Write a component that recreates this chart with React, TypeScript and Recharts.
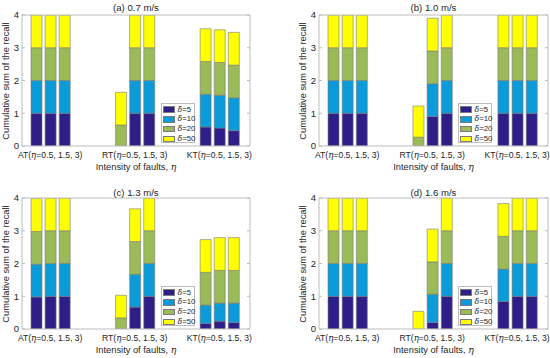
import React from "react";
import { BarChart, Bar, XAxis, YAxis } from "recharts";

const slots = [1, 2, 3, 4, 5, 6, 7, 8, 9, 10, 11, 12, 13, 14, 15];
const groupNames = ["AT", "RT", "KT"];
const groupSlots = [2, 8, 14];
const deltas = [5, 10, 20, 50];
const colors = ["#2e1f88", "#0a9bd8", "#9bbb59", "#ffff00"];
const yTicks = [0, 1, 2, 3, 4];
const titles = ["(a) 0.7 m/s", "(b) 1.0 m/s", "(c) 1.3 m/s", "(d) 1.6 m/s"];

// (a) 0.7 m/s
const a5 = [1, 1, 1, 0, 0, 0, 0, 1, 1, 0, 0, 0, 0.58, 0.55, 0.47];
const a10 = [1, 1, 1, 0, 0, 0, 0, 1, 1, 0, 0, 0, 1, 1, 1];
const a20 = [1, 1, 1, 0, 0, 0, 0.64, 1, 1, 0, 0, 0, 1, 1, 1];
const a50 = [1, 1, 1, 0, 0, 0, 1, 1, 1, 0, 0, 0, 1, 1, 1];

// (b) 1.0 m/s
const b5 = [1, 1, 1, 0, 0, 0, 0, 0.9, 1, 0, 0, 0, 1, 1, 1];
const b10 = [1, 1, 1, 0, 0, 0, 0, 1, 1, 0, 0, 0, 1, 1, 1];
const b20 = [1, 1, 1, 0, 0, 0, 0.27, 1, 1, 0, 0, 0, 1, 1, 1];
const b50 = [1, 1, 1, 0, 0, 0, 0.95, 1, 1, 0, 0, 0, 1, 1, 1];

// (c) 1.3 m/s
const c5 = [0.98, 1, 1, 0, 0, 0, 0, 0.67, 1, 0, 0, 0, 0.17, 0.24, 0.2];
const c10 = [1, 1, 1, 0, 0, 0, 0, 1, 1, 0, 0, 0, 0.56, 0.55, 0.59];
const c20 = [1, 1, 1, 0, 0, 0, 0.34, 1, 1, 0, 0, 0, 1, 1, 1];
const c50 = [1, 1, 1, 0, 0, 0, 0.69, 1, 1, 0, 0, 0, 1, 1, 1];

// (d) 1.6 m/s
const d5 = [1, 1, 1, 0, 0, 0, 0, 0.2, 1, 0, 0, 0, 0.84, 1, 1];
const d10 = [1, 1, 1, 0, 0, 0, 0, 0.86, 1, 0, 0, 0, 0.99, 1, 1];
const d20 = [1, 1, 1, 0, 0, 0, 0, 0.99, 1, 0, 0, 0, 1, 1, 1];
const d50 = [1, 1, 1, 0, 0, 0, 0.54, 1, 1, 0, 0, 0, 1, 1, 1];

const series = [
  [a5, a10, a20, a50],
  [b5, b10, b20, b50],
  [c5, c10, c20, c50],
  [d5, d10, d20, d50],
];

const font = "'Liberation Sans', Arial, sans-serif";
const frame = "#bdbdbd";
const ink = "#262626";

// chart boxes: x, y, w, h, y-axis width, right margin, x-axis height
const boxes = [
  { x: 0, y: 0, w: 275, h: 179, yw: 22, mr: 25, xh: 33, tdy: 7.5 },
  { x: 275, y: 0, w: 275, h: 179, yw: 44, mr: 2, xh: 33, tdy: 7.5 },
  { x: 0, y: 183, w: 275, h: 175, yw: 22, mr: 25, xh: 29, tdy: 5 },
  { x: 275, y: 183, w: 275, h: 175, yw: 44, mr: 2, xh: 29, tdy: 5 },
];

const XTick = (props: any) => {
  const { x, y, payload } = props;
  const i = groupSlots.indexOf(payload.value);
  if (i < 0) return <g />;
  return (
    <text x={x} y={y + 12} textAnchor="middle" fontSize={8.6} fill={ink} fontFamily={font}>
      {groupNames[i]}(<tspan fontStyle="italic" fontFamily="'DejaVu Serif', serif">η</tspan>=0.5, 1.5, 3)
    </text>
  );
};

const Centered = ({ cx, cy, rotate, size, children }: any) => (
  <div
    style={{
      position: "absolute",
      left: cx,
      top: cy,
      transform: `translate(-50%, -50%)${rotate ? " rotate(-90deg)" : ""}`,
      whiteSpace: "nowrap",
      fontSize: size,
      lineHeight: 1,
      fontFamily: font,
      color: ink,
    }}
  >
    {children}
  </div>
);

const LegendBox = ({ left, top }: { left: number; top: number }) => (
  <div
    style={{
      position: "absolute",
      left,
      top,
      width: 34,
      height: 40,
      boxSizing: "border-box",
      border: `1px solid ${frame}`,
      background: "#fff",
    }}
  >
    {deltas.map((d, i) => (
      <div key={d} style={{ position: "absolute", left: 1.7, top: 2 + 9.8 * i, height: 7, display: "flex", alignItems: "center" }}>
        <div
          style={{
            width: 12,
            height: 6.5,
            boxSizing: "border-box",
            background: colors[i],
            border: "0.6px solid #7a7a7a",
          }}
        />
        <span style={{ marginLeft: 2.3, fontSize: 7.8, fontFamily: font, color: ink, lineHeight: 1 }}>
          <i style={{ fontFamily: "'DejaVu Serif', serif" }}>δ</i>={d}
        </span>
      </div>
    ))}
  </div>
);

function Panel({ index }: { index: number }) {
  const b = boxes[index];
  const vals = series[index];
  const data = slots.map((s, i) => ({
    slot: s,
    d5: vals[0][i],
    d10: vals[1][i],
    d20: vals[2][i],
    d50: vals[3][i],
  }));
  const pl = b.x + b.yw;
  const pr = b.x + b.w - b.mr;
  const pt = b.y + 15;
  const pb = b.y + b.h - b.xh;

  return (
    <>
      <div style={{ position: "absolute", left: b.x, top: b.y }}>
        <BarChart
          width={b.w}
          height={b.h}
          data={data}
          margin={{ top: 14, right: b.mr - 1, left: 0, bottom: 0 }}
        >
          <XAxis
            dataKey="slot"
            type="category"
            interval={0}
            height={b.xh}
            tickLine={false}
            tickSize={0}
            tickMargin={0}
            padding={{ left: 7, right: 9.6 }}
            axisLine={{ stroke: frame }}
            tick={<XTick />}
          />
          <XAxis
            xAxisId="top"
            dataKey="slot"
            orientation="top"
            height={1}
            tickLine={false}
            tickFormatter={() => ""}
            padding={{ left: 7, right: 9.6 }}
            axisLine={{ stroke: frame }}
          />
          <YAxis
            type="number"
            domain={[0, 4]}
            ticks={yTicks}
            interval={0}
            allowDataOverflow
            width={b.yw}
            tickSize={-3}
            tickMargin={6}
            axisLine={{ stroke: frame }}
            tickLine={{ stroke: frame }}
            tick={{ fontSize: 9.5, fill: ink, fontFamily: font }}
          />
          <YAxis
            yAxisId="right"
            orientation="right"
            type="number"
            domain={[0, 4]}
            ticks={yTicks}
            interval={0}
            allowDataOverflow
            width={1}
            tickSize={-3}
            tickFormatter={() => ""}
            axisLine={{ stroke: frame }}
            tickLine={{ stroke: frame }}
          />
          {deltas.map((d, i) => (
            <Bar
              key={d}
              dataKey={"d" + d}
              stackId="s"
              fill={colors[i]}
              stroke="#7a7a7a"
              strokeWidth={0.6}
              barSize={11}
              isAnimationActive={false}
            />
          ))}
        </BarChart>
      </div>
      <Centered cx={(pl + pr) / 2} cy={pt - b.tdy} size={9.6}>
        {titles[index]}
      </Centered>
      <Centered cx={pl - 15} cy={(pt + pb) / 2} rotate size={9.3}>
        Cumulative sum of the recall
      </Centered>
      <Centered cx={(pl + pr) / 2} cy={pb + 21} size={9.3}>
        Intensity of faults, <i style={{ fontFamily: "'DejaVu Serif', serif" }}>η</i>
      </Centered>
      <LegendBox left={pl + 138.5} top={pb - 43} />
    </>
  );
}

export default function App() {
  return (
    <div
      style={{
        position: "absolute",
        left: 0,
        top: 0,
        width: 550,
        height: 358,
        overflow: "hidden",
        background: "#fff",
      }}
    >
      {[0, 1, 2, 3].map((i) => (
        <Panel key={i} index={i} />
      ))}
    </div>
  );
}
